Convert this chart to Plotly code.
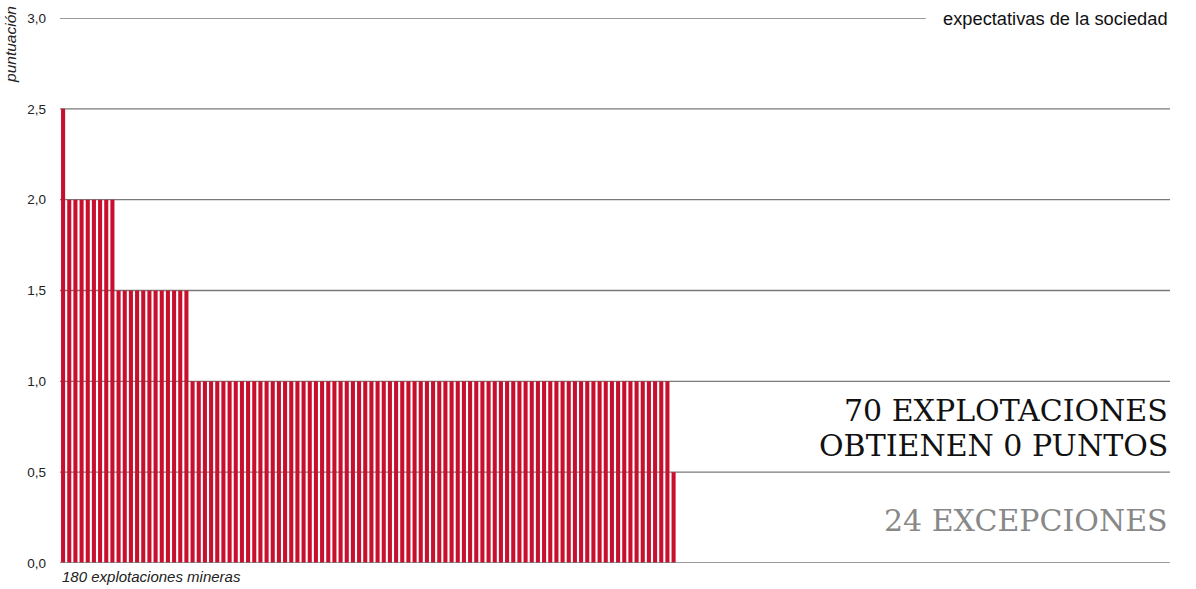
import plotly.graph_objects as go

# ---- data ----
score_levels = [2.5, 2.0, 1.5, 1.0, 0.5, 0.0]
level_counts = [1, 8, 12, 78, 1, 80]   # 180 explotaciones in total
scores = []
for s, c in zip(score_levels, level_counts):
    scores += [s] * c
operations = list(range(1, len(scores) + 1))

y_tickvals = [0.0, 0.5, 1.0, 1.5, 2.0, 2.5, 3.0]
y_ticktext = ["0,0", "0,5", "1,0", "1,5", "2,0", "2,5", "3,0"]

BAR_RED = "#C8102E"
GRID = "#7a7a7a"

fig = go.Figure()
fig.add_trace(go.Bar(x=operations, y=scores, marker=dict(color=BAR_RED, line=dict(width=0)),
                     width=0.66, hoverinfo="skip"))

fig.update_layout(
    width=1196, height=589,
    margin=dict(l=60, r=26, t=18, b=26),
    plot_bgcolor="white", paper_bgcolor="white",
    showlegend=False,
    font=dict(family="Liberation Sans, Arial, sans-serif", size=13, color="#222"),
    xaxis=dict(range=[0.5, 180.5], showticklabels=False, showgrid=False, zeroline=False,
               showline=False, ticks=""),
    yaxis=dict(range=[0, 3.0], tickvals=y_tickvals, ticktext=y_ticktext,
               showgrid=False, zeroline=False, showline=False, ticks="",
               ticklabelstandoff=13, tickfont=dict(size=13.5, color="#222")),
)

# gridlines (3,0 line stops before the label)
for v in y_tickvals:
    x1 = 0.78 if v == 3.0 else 1.0
    fig.add_shape(type="line", xref="paper", yref="y", x0=0, x1=x1, y0=v, y1=v,
                  line=dict(color=GRID, width=1.4), layer="above" if v == 0.0 else "below")

fig.add_annotation(xref="paper", yref="y", x=1.0, y=3.0, xanchor="right", yanchor="middle",
                   text="expectativas de la sociedad", showarrow=False,
                   font=dict(size=18.3, color="#111"))

fig.add_annotation(xref="paper", yref="paper", x=-0.0445, y=1.026, xanchor="center", yanchor="top",
                   text="<i>puntuación</i>", textangle=-90, showarrow=False,
                   font=dict(size=15.5, color="#222"))

fig.add_annotation(xref="paper", yref="paper", x=0.0, y=-0.006, xanchor="left", yanchor="top",
                   text="<i>180 explotaciones mineras</i>", showarrow=False,
                   font=dict(size=15, color="#222"))

SERIF = "DejaVu Serif, serif"
fig.add_annotation(xref="paper", yref="y", x=1.0, y=0.84, xanchor="right", yanchor="middle",
                   text="70 EXPLOTACIONES", showarrow=False,
                   font=dict(family=SERIF, size=30, color="#111"))
fig.add_annotation(xref="paper", yref="y", x=1.0, y=0.648, xanchor="right", yanchor="middle",
                   text="OBTIENEN 0 PUNTOS", showarrow=False,
                   font=dict(family=SERIF, size=30, color="#111"))
fig.add_annotation(xref="paper", yref="y", x=1.0, y=0.236, xanchor="right", yanchor="middle",
                   text="24 EXCEPCIONES", showarrow=False,
                   font=dict(family=SERIF, size=30, color="#888"))

fig.write_html("out.html", config={"displayModeBar": False},
               post_script="document.body.style.margin='0';document.body.style.overflow='hidden';")
